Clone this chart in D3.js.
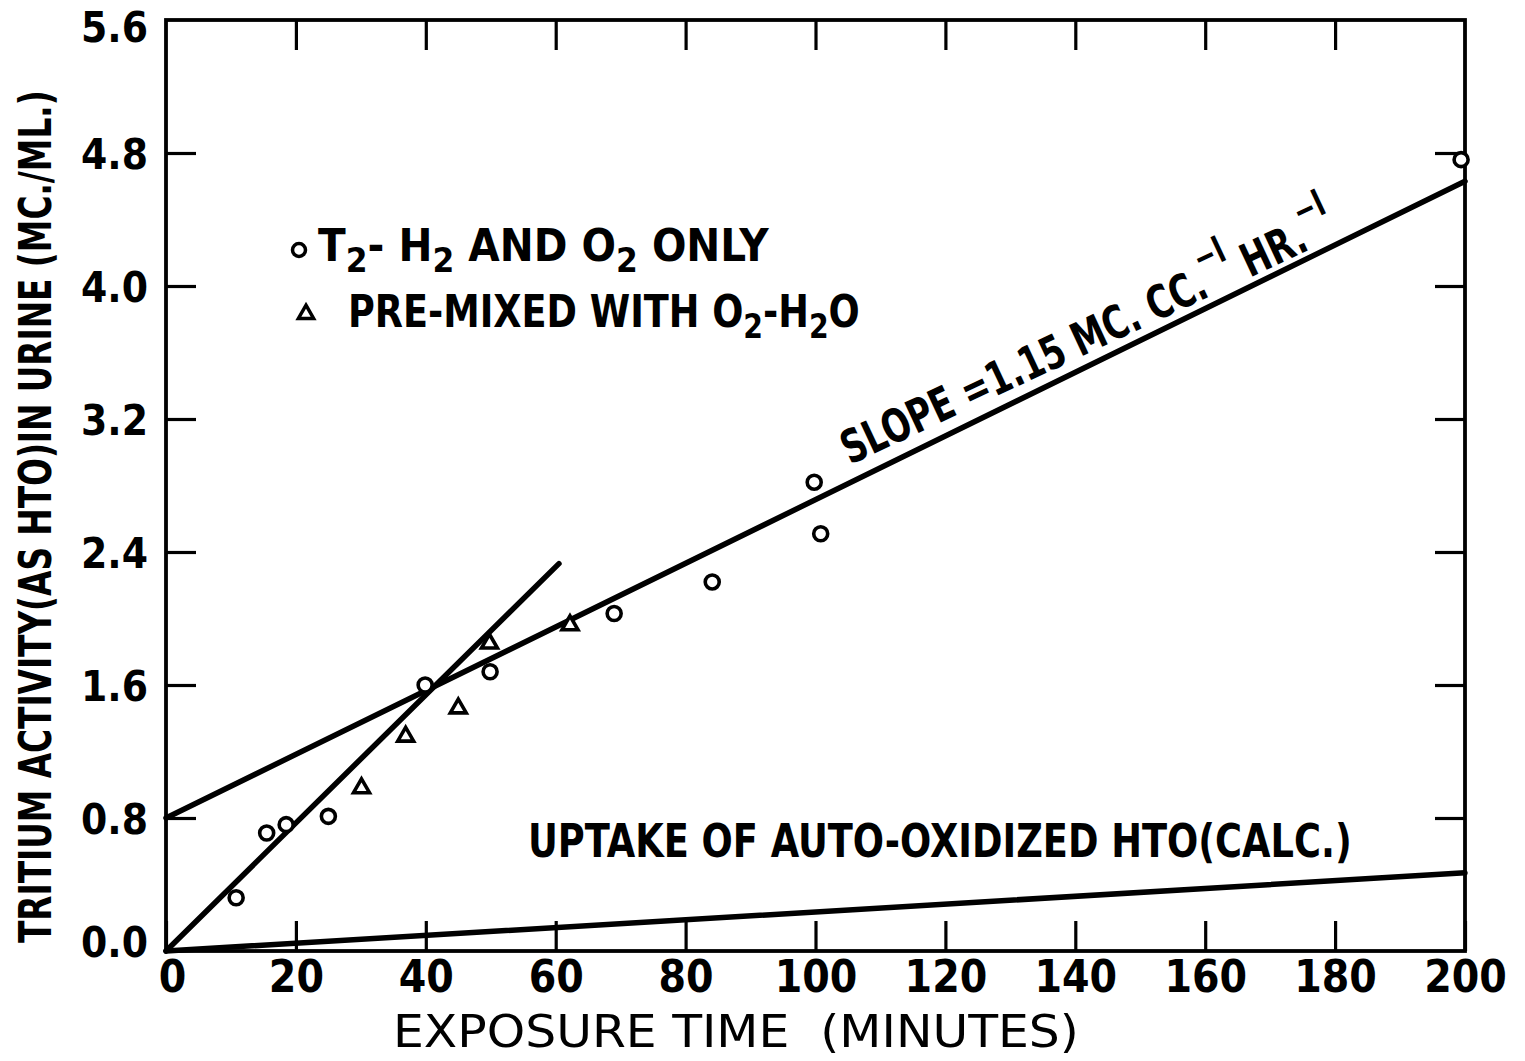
<!DOCTYPE html>
<html><head><meta charset="utf-8">
<script src="https://cdn.jsdelivr.net/npm/d3@7"></script>
<style>
body{margin:0;background:#fff;}
svg text{font-family:"DejaVu Sans Condensed","DejaVu Sans",sans-serif;font-stretch:condensed;fill:#000;white-space:pre;}
</style></head><body>
<svg id="c" width="1525" height="1061"></svg>
<script>
// ---- data ----
const xTickValues = [0,20,40,60,80,100,120,140,160,180,200];
const yTickValues = [0.0,0.8,1.6,2.4,3.2,4.0,4.8,5.6];
const circleX = [10.8,15.5,18.5,25.0,39.9,49.9,69.0,84.1,99.8,100.8,199.4];
const circleY = [0.32,0.71,0.76,0.81,1.60,1.68,2.03,2.22,2.82,2.51,4.76];
const triX = [30.1,36.9,45.0,49.8,62.2];
const triY = [0.98,1.29,1.46,1.85,1.96];
const slopeLineX = [0,200];
const slopeLineY = [0.80,4.63];
const steepLineX = [0,60.5];
const steepLineY = [0.00,2.33];
const autoLineX = [0,200];
const autoLineY = [0.00,0.47];
const yTitle = "TRITIUM ACTIVITY(AS HTO)IN URINE (MC./ML.)";
const xTitle = "EXPOSURE TIME  (MINUTES)";
const autoLabel = "UPTAKE OF AUTO-OXIDIZED HTO(CALC.)";

// ---- layout ----
const L=166, R=1465, T=20, B=951;
const svg = d3.select("#c");
const x = d3.scaleLinear().domain([0,200]).range([L,R]);
const y = d3.scaleLinear().domain([0,5.6]).range([B,T]);

// frame
svg.append("rect").attr("x",L).attr("y",T).attr("width",R-L).attr("height",B-T)
  .attr("fill","none").attr("stroke","#000").attr("stroke-width",3.8);

function styleAxis(g, fs){
  g.select(".domain").remove();
  g.selectAll(".tick line").attr("stroke","#000").attr("stroke-width",3.2);
  g.selectAll(".tick text").attr("fill","#000").style("font-size",fs+"px").style("font-weight","bold");
}
// bottom axis (labels + inward ticks)
const gb = svg.append("g").attr("transform",`translate(0,${B})`)
  .call(d3.axisBottom(x).tickValues(xTickValues).tickSize(-30).tickPadding(9).tickFormat(d3.format("d")));
styleAxis(gb,44);
gb.selectAll(".tick text").attr("dy","0.72em").attr("dx",d=>d===0?6:0);
// top axis ticks
const gt = svg.append("g").attr("transform",`translate(0,${T})`)
  .call(d3.axisTop(x).tickValues(xTickValues.slice(1,-1)).tickSize(-30).tickFormat(""));
styleAxis(gt,10);
// left axis
const gl = svg.append("g").attr("transform",`translate(${L},0)`)
  .call(d3.axisLeft(y).tickValues(yTickValues).tickSize(-30).tickPadding(18).tickFormat(d3.format(".1f")));
styleAxis(gl,42);
gl.selectAll(".tick line").filter(d=>d===0||d===5.6).remove();
gl.selectAll(".tick text").attr("dy",d=>d===0?"0.12em":(d===5.6?"0.52em":"0.36em"));
// right axis ticks
const gr = svg.append("g").attr("transform",`translate(${R},0)`)
  .call(d3.axisRight(y).tickValues(yTickValues.slice(1,-1)).tickSize(-30).tickFormat(""));
styleAxis(gr,10);

// lines
const line = d3.line().x(d=>x(d[0])).y(d=>y(d[1]));
function drawLine(xs, ys){
  svg.append("path").datum(xs.map((v,i)=>[v,ys[i]])).attr("d",line)
    .attr("fill","none").attr("stroke","#000").attr("stroke-width",5.5).attr("stroke-linecap","round");
}
drawLine(slopeLineX, slopeLineY);
drawLine(steepLineX, steepLineY);
drawLine(autoLineX, autoLineY);

// markers
svg.append("g").selectAll("circle").data(circleX.map((v,i)=>[v,circleY[i]])).join("circle")
  .attr("cx",d=>x(d[0])).attr("cy",d=>y(d[1])).attr("r",7)
  .attr("fill","#fff").attr("stroke","#000").attr("stroke-width",3.6);
const triSym = d3.symbol().type(d3.symbolTriangle).size(110);
svg.append("g").selectAll("path").data(triX.map((v,i)=>[v,triY[i]])).join("path")
  .attr("d",triSym).attr("transform",d=>`translate(${x(d[0])},${y(d[1])})`)
  .attr("fill","#fff").attr("stroke","#000").attr("stroke-width",3.6);

// text helper: fit to a target width
function label(x0,y0,angle,target,fs,weight,build){
  const g = svg.append("g");
  const t = g.append("text").style("font-size",fs+"px").style("font-weight",weight);
  build(t);
  const w = t.node().getBBox().width;
  const sx = target ? target/w : 1;
  g.attr("transform",`translate(${x0},${y0}) rotate(${angle}) scale(${sx},1)`);
  return g;
}
function sub(t, s, fs){ t.append("tspan").attr("dy",11).style("font-size",fs+"px").text(s); }
function back(t, s){ t.append("tspan").attr("dy",-11).text(s); }

// axis titles
label(51,943,-90,853,44,"bold",t=>t.text(yTitle));
label(393,1047,0,686,45,"normal",t=>t.text(xTitle));

// legend
svg.append("circle").attr("cx",299).attr("cy",250).attr("r",6.5)
  .attr("fill","#fff").attr("stroke","#000").attr("stroke-width",3.5);
svg.append("path").attr("d",d3.symbol().type(d3.symbolTriangle).size(100))
  .attr("transform","translate(306,314)").attr("fill","#fff").attr("stroke","#000").attr("stroke-width",3.5);
label(318,261,0,452,44,"bold",t=>{
  t.append("tspan").text("T"); sub(t,"2",34); back(t,"- H"); sub(t,"2",34);
  back(t," AND O"); sub(t,"2",34); back(t," ONLY");
});
label(348,327,0,512,44,"bold",t=>{
  t.append("tspan").text("PRE-MIXED WITH O"); sub(t,"2",34); back(t,"-H"); sub(t,"2",34); back(t,"O");
});

// slope annotation
const ang = Math.atan2(y(slopeLineY[1])-y(slopeLineY[0]), x(slopeLineX[1])-x(slopeLineX[0]))*180/Math.PI + 1;
label(850,465,ang,540,46,"bold",t=>{
  t.append("tspan").text("SLOPE =1.15 MC. CC.");
  t.append("tspan").attr("dy",-26).style("font-size","36px").text("\u2212l");
  t.append("tspan").attr("dy",26).text(" HR.");
  t.append("tspan").attr("dy",-26).style("font-size","36px").text("\u2212l");
});

// auto-oxidized annotation
label(528,857,0,824,47,"bold",t=>t.text(autoLabel));
</script>
</body></html>
